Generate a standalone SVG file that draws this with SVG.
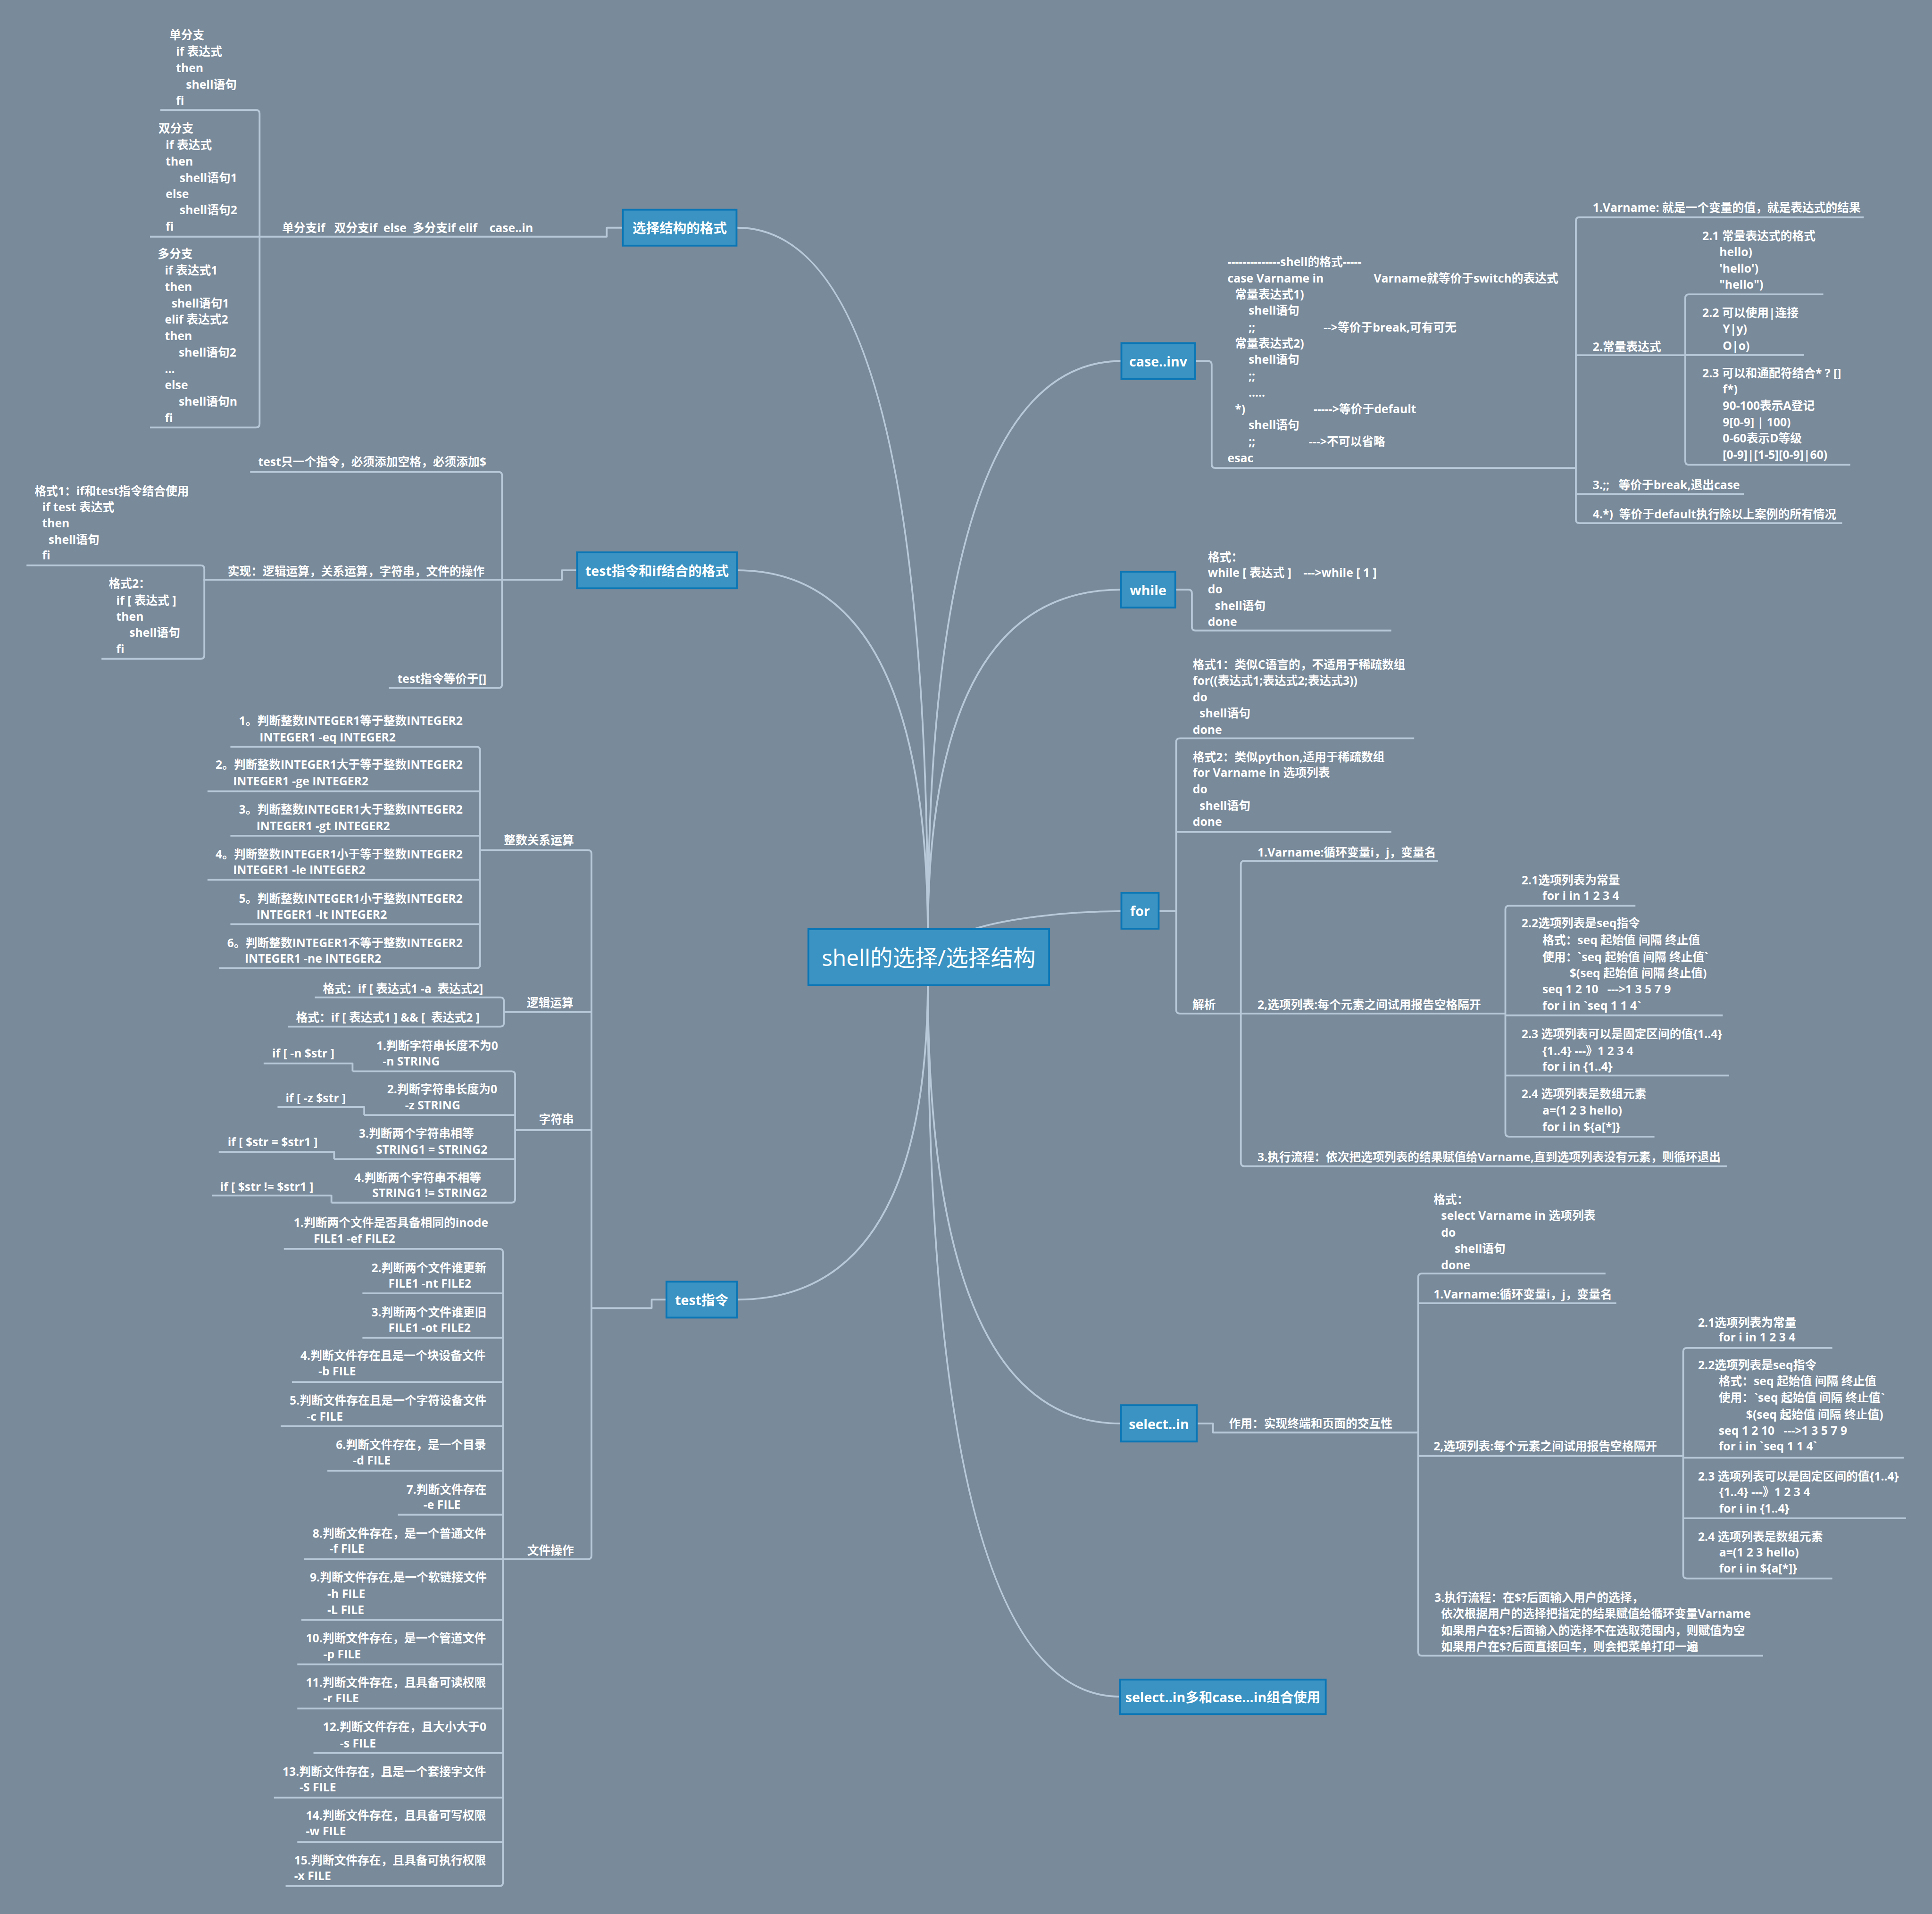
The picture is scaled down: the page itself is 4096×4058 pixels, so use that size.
<svg xmlns="http://www.w3.org/2000/svg" width="4096" height="4058" viewBox="0 0 4096 4058">
<style>
.bg{fill:#798a9a}
.n rect{fill:#3a93c2;stroke:#0b76b5;stroke-width:4}
.n text{font:700 30px 'Open Sans','Noto Sans CJK SC',sans-serif;fill:#fff;text-anchor:middle;dominant-baseline:central}
#center text{font:400 50px 'Open Sans','Noto Sans CJK SC',sans-serif}
.t text{font:700 26px 'Open Sans','Noto Sans CJK SC',sans-serif;fill:#fff;white-space:pre}
#connectors path{fill:none;stroke:#b7c8d9;stroke-width:4;stroke-linejoin:round}
</style>
<rect class="bg" x="0" y="0" width="4096" height="4058"/>
<g transform="scale(0.95212)">
<g id="connectors">
<path d="M2066,2090 Q2066,507 1641,507"/>
<path d="M2066,2090 Q2066,1270 1641,1270"/>
<path d="M2066,2180 Q2066,2894 1641,2894"/>
<path d="M2066,2090 Q2066,804 2497,804"/>
<path d="M2066,2090 Q2066,1313 2496,1313"/>
<path d="M2150,2075 C2230,2045 2380,2029 2497,2029"/>
<path d="M2066,2180 Q2066,3170 2496,3170"/>
<path d="M2066,2180 Q2066,3778 2494,3778"/>
<path d="M1387,507 H1351 V527 H578"/>
<path d="M357,245 H570 Q578,245 578,253 V944 Q578,952 570,952 H334"/>
<path d="M334,527 H578"/>
<path d="M1285,1270 H1251 V1291 H453"/>
<path d="M557,1051 H1110 Q1118,1051 1118,1059 V1524 Q1118,1532 1110,1532 H866"/>
<path d="M59,1259 H447 Q455,1259 455,1267 V1459 Q455,1467 447,1467 H226"/>
<path d="M1484,2894 H1451 V2913 H1317"/>
<path d="M1069,1893 H1309 Q1317,1893 1317,1901 V3464 Q1317,3472 1309,3472 H677"/>
<path d="M1122,2253.5 H1317 M1147,2516.5 H1317"/>
<path d="M513,1663 H1061 Q1069,1663 1069,1671 V2148 Q1069,2156 1061,2156 H488"/>
<path d="M462,1762 H1069 M513,1861 H1069 M462,1959 H1069 M513,2058 H1069"/>
<path d="M701,2221 H1114 Q1122,2221 1122,2229 V2278 Q1122,2286 1114,2286 H641"/>
<path d="M785,2385.5 H1139 Q1147,2385.5 1147,2393.5 V2670 Q1147,2678 1139,2678 H738"/>
<path d="M811,2483 H1147 M744,2581 H1147"/>
<path d="M587,2368 H785 V2385.5 M618,2465 H811 V2483 M487,2565 H744 V2581 M472,2662 H738 V2678"/>
<path d="M632,2781 H1112 Q1120,2781 1120,2789 V4192 Q1120,4200 1112,4200 H636"/>
<path d="M807,2880 H1120 M807,2979 H1120 M650,3077.5 H1120 M625,3176 H1120 M729,3275 H1120 M886,3373 H1120 M671,3607 H1120 M662,3706 H1120 M662,3804.5 H1120 M698,3903.5 H1120 M610,4003 H1120 M662,4101.6 H1120"/>
<path d="M2661,804 H2690 Q2698,804 2698,812 V1034 Q2698,1042 2706,1042 H3509"/>
<path d="M4150,483.7 H3517 Q3509,483.7 3509,491.7 V1157 Q3509,1165 3517,1165 H4102"/>
<path d="M3509,791 H3752.6 M3509,1100 H3883"/>
<path d="M4060,655.5 H3760.6 Q3752.6,655.5 3752.6,663.5 V1027 Q3752.6,1035 3760.6,1035 H4120"/>
<path d="M3752.6,790.6 H4017"/>
<path d="M2617,1313 H2646 Q2654,1313 2654,1321 V1396 Q2654,1404 2662,1404 H3098"/>
<path d="M2580,2029 H2619"/>
<path d="M3149,1644 H2627 Q2619,1644 2619,1652 V2249 Q2619,2257 2627,2257 H2763"/>
<path d="M2619,1852.5 H3098"/>
<path d="M3202,1917 H2771 Q2763,1917 2763,1925 V2589 Q2763,2597 2771,2597 H3845"/>
<path d="M2763,2257 H3352"/>
<path d="M3641.6,2017 H3360 Q3352,2017 3352,2025 V2523 Q3352,2531 3360,2531 H3684"/>
<path d="M3352,2261 H3836 M3352,2395 H3850"/>
<path d="M2665,3170 H2701 V3190 H3158"/>
<path d="M3575,2836 H3166 Q3158,2836 3158,2844 V3679 Q3158,3687 3166,3687 H3926"/>
<path d="M3158,2902 H3599 M3158,3242 H3748"/>
<path d="M4080,3001.5 H3756 Q3748,3001.5 3748,3009.5 V3507 Q3748,3515 3756,3515 H4080"/>
<path d="M3748,3246 H4239 M3748,3381 H4244"/>
</g>

<g id="center" class="n"><rect x="1800" y="2069" width="536" height="125"/><text x="2068" y="2132">shell的选择/选择结构</text></g>
<g id="n-format" class="n"><rect x="1387" y="467" width="253" height="80"/><text x="1513.5" y="507">选择结构的格式</text></g>
<g id="n-testif" class="n"><rect x="1285" y="1230" width="356" height="80"/><text x="1463" y="1270">test指令和if结合的格式</text></g>
<g id="n-test" class="n"><rect x="1484" y="2854" width="157" height="80"/><text x="1562.5" y="2894">test指令</text></g>
<g id="n-case" class="n"><rect x="2497" y="764" width="164" height="80"/><text x="2579" y="804">case..inv</text></g>
<g id="n-while" class="n"><rect x="2496" y="1273" width="121" height="80"/><text x="2556.5" y="1313">while</text></g>
<g id="n-for" class="n"><rect x="2497" y="1988" width="83" height="80"/><text x="2538.5" y="2028">for</text></g>
<g id="n-select" class="n"><rect x="2496" y="3129" width="169" height="81"/><text x="2580.5" y="3170">select..in</text></g>
<g id="n-selectcase" class="n"><rect x="2494" y="3740" width="458" height="77"/><text x="2723" y="3778.5">select..in多和case...in组合使用</text></g>

<g id="t-format-main" class="t"><text x="628" y="517">单分支if   双分支if  else  多分支if elif    case..in</text></g>
<g id="t-single" class="t"><text x="377" y="87">单分支</text><text x="392" y="124">if 表达式</text><text x="392" y="160.5">then</text><text x="414" y="197">shell语句</text><text x="392" y="233">fi</text></g>
<g id="t-double" class="t"><text x="353" y="295.5">双分支</text><text x="369" y="332">if 表达式</text><text x="369" y="369">then</text><text x="400" y="405">shell语句1</text><text x="369" y="441">else</text><text x="400" y="477">shell语句2</text><text x="369" y="514">fi</text></g>
<g id="t-multi" class="t"><text x="351" y="575">多分支</text><text x="367" y="611.5">if 表达式1</text><text x="367" y="648">then</text><text x="382" y="684.5">shell语句1</text><text x="367" y="721">elif 表达式2</text><text x="367" y="757.5">then</text><text x="398" y="794">shell语句2</text><text x="367" y="830.5">...</text><text x="367" y="867">else</text><text x="398" y="903.5">shell语句n</text><text x="367" y="940">fi</text></g>

<g id="t-testonly" class="t"><text x="575" y="1038">test只一个指令，必须添加空格，必须添加$</text></g>
<g id="t-impl" class="t"><text x="507" y="1281">实现：逻辑运算，关系运算，字符串，文件的操作</text></g>
<g id="t-eq" class="t"><text x="885" y="1521">test指令等价于[]</text></g>
<g id="t-fmt1" class="t"><text x="77" y="1102.5">格式1：if和test指令结合使用</text><text x="94" y="1138">if test 表达式</text><text x="94" y="1174">then</text><text x="108" y="1211">shell语句</text><text x="94" y="1246">fi</text></g>
<g id="t-fmt2" class="t"><text x="242" y="1309">格式2：</text><text x="259" y="1346">if [ 表达式 ]</text><text x="259" y="1382">then</text><text x="288" y="1418">shell语句</text><text x="259" y="1455">fi</text></g>

<g id="t-int" class="t"><text x="1122" y="1880">整数关系运算</text></g>
<g id="t-int1" class="t"><text x="532" y="1614">1。判断整数INTEGER1等于整数INTEGER2</text><text x="578" y="1651">INTEGER1 -eq INTEGER2</text></g>
<g id="t-int2" class="t"><text x="480" y="1712">2。判断整数INTEGER1大于等于整数INTEGER2</text><text x="519" y="1749">INTEGER1 -ge INTEGER2</text></g>
<g id="t-int3" class="t"><text x="532" y="1812">3。判断整数INTEGER1大于整数INTEGER2</text><text x="571" y="1848">INTEGER1 -gt INTEGER2</text></g>
<g id="t-int4" class="t"><text x="480" y="1911">4。判断整数INTEGER1小于等于整数INTEGER2</text><text x="519" y="1946">INTEGER1 -le INTEGER2</text></g>
<g id="t-int5" class="t"><text x="532" y="2010">5。判断整数INTEGER1小于整数INTEGER2</text><text x="571" y="2046">INTEGER1 -lt INTEGER2</text></g>
<g id="t-int6" class="t"><text x="506" y="2109">6。判断整数INTEGER1不等于整数INTEGER2</text><text x="545" y="2144">INTEGER1 -ne INTEGER2</text></g>

<g id="t-logic" class="t"><text x="1173" y="2242">逻辑运算</text></g>
<g id="t-logic1" class="t"><text x="719" y="2210.5">格式：if [ 表达式1 -a  表达式2]</text></g>
<g id="t-logic2" class="t"><text x="659" y="2275">格式：if [ 表达式1 ] &amp;&amp; [  表达式2 ]</text></g>

<g id="t-str" class="t"><text x="1200" y="2502">字符串</text></g>
<g id="t-str1" class="t"><text x="838" y="2338">1.判断字符串长度不为0</text><text x="852" y="2373">-n STRING</text></g>
<g id="t-str1a" class="t"><text x="606" y="2355">if [ -n $str ]</text></g>
<g id="t-str2" class="t"><text x="862" y="2435">2.判断字符串长度为0</text><text x="902" y="2470">-z STRING</text></g>
<g id="t-str2a" class="t"><text x="636" y="2454">if [ -z $str ]</text></g>
<g id="t-str3" class="t"><text x="799" y="2533">3.判断两个字符串相等</text><text x="837" y="2569">STRING1 = STRING2</text></g>
<g id="t-str3a" class="t"><text x="507" y="2552">if [ $str = $str1 ]</text></g>
<g id="t-str4" class="t"><text x="789" y="2632">4.判断两个字符串不相等</text><text x="829" y="2666">STRING1 != STRING2</text></g>
<g id="t-str4a" class="t"><text x="490" y="2651.5">if [ $str != $str1 ]</text></g>

<g id="t-file" class="t"><text x="1174" y="3462">文件操作</text></g>
<g id="t-f1" class="t"><text x="654" y="2731.5">1.判断两个文件是否具备相同的inode</text><text x="698.5" y="2768">FILE1 -ef FILE2</text></g>
<g id="t-f2" class="t"><text x="827" y="2833">2.判断两个文件谁更新</text><text x="865" y="2867">FILE1 -nt FILE2</text></g>
<g id="t-f3" class="t"><text x="827" y="2931">3.判断两个文件谁更旧</text><text x="865" y="2966">FILE1 -ot FILE2</text></g>
<g id="t-f4" class="t"><text x="669" y="3028.5">4.判断文件存在且是一个块设备文件</text><text x="709" y="3063">-b FILE</text></g>
<g id="t-f5" class="t"><text x="645" y="3128">5.判断文件存在且是一个字符设备文件</text><text x="683" y="3163.5">-c FILE</text></g>
<g id="t-f6" class="t"><text x="748" y="3226">6.判断文件存在，是一个目录</text><text x="786" y="3261">-d FILE</text></g>
<g id="t-f7" class="t"><text x="905" y="3326">7.判断文件存在</text><text x="943" y="3360">-e FILE</text></g>
<g id="t-f8" class="t"><text x="696" y="3424">8.判断文件存在，是一个普通文件</text><text x="734" y="3458">-f FILE</text></g>
<g id="t-f9" class="t"><text x="690" y="3522">9.判断文件存在,是一个软链接文件</text><text x="729" y="3558.5">-h FILE</text><text x="729" y="3594.5">-L FILE</text></g>
<g id="t-f10" class="t"><text x="681" y="3657">10.判断文件存在，是一个管道文件</text><text x="720" y="3693">-p FILE</text></g>
<g id="t-f11" class="t"><text x="681" y="3756">11.判断文件存在，且具备可读权限</text><text x="720" y="3790.5">-r FILE</text></g>
<g id="t-f12" class="t"><text x="719" y="3855">12.判断文件存在，且大小大于0</text><text x="757" y="3891">-s FILE</text></g>
<g id="t-f13" class="t"><text x="629" y="3954.5">13.判断文件存在，且是一个套接字文件</text><text x="667" y="3989">-S FILE</text></g>
<g id="t-f14" class="t"><text x="681" y="4052">14.判断文件存在，且具备可写权限</text><text x="681" y="4087">-w FILE</text></g>
<g id="t-f15" class="t"><text x="655" y="4152">15.判断文件存在，且具备可执行权限</text><text x="655" y="4186.5">-x FILE</text></g>

<g id="t-case" class="t"><text x="2733.5" y="592">--------------shell的格式-----</text><text x="2733.5" y="629">case Varname in</text><text x="3059" y="629">Varname就等价于switch的表达式</text><text x="2750" y="665">常量表达式1)</text><text x="2780" y="701">shell语句</text><text x="2780" y="738">;;</text><text x="2947" y="738">--&gt;等价于break,可有可无</text><text x="2750" y="774">常量表达式2)</text><text x="2780" y="810">shell语句</text><text x="2780" y="847">;;</text><text x="2780" y="883">.....</text><text x="2750" y="920">*)</text><text x="2925" y="920">-----&gt;等价于default</text><text x="2780" y="956">shell语句</text><text x="2780" y="993">;;</text><text x="2914.5" y="993">---&gt;不可以省略</text><text x="2733.5" y="1029">esac</text></g>
<g id="t-c1" class="t"><text x="3546.6" y="472">1.Varname: 就是一个变量的值，就是表达式的结果</text></g>
<g id="t-c2" class="t"><text x="3546.6" y="781">2.常量表达式</text></g>
<g id="t-c21" class="t"><text x="3790.6" y="535">2.1 常量表达式的格式</text><text x="3828.5" y="570">hello)</text><text x="3828.5" y="607">'hello')</text><text x="3828.5" y="642.5">"hello")</text></g>
<g id="t-c22" class="t"><text x="3790.6" y="706">2.2 可以使用|连接</text><text x="3836" y="742">Y|y)</text><text x="3836" y="779">O|o)</text></g>
<g id="t-c23" class="t"><text x="3790.6" y="840">2.3 可以和通配符结合* ? []</text><text x="3836" y="876">f*)</text><text x="3836" y="912.5">90-100表示A登记</text><text x="3836" y="949">9[0-9] | 100)</text><text x="3836" y="985">0-60表示D等级</text><text x="3836" y="1022">[0-9]|[1-5][0-9]|60)</text></g>
<g id="t-c3" class="t"><text x="3546.6" y="1089">3.;;   等价于break,退出case</text></g>
<g id="t-c4" class="t"><text x="3546.6" y="1154">4.*)  等价于default执行除以上案例的所有情况</text></g>

<g id="t-while" class="t"><text x="2689.5" y="1249.6">格式：</text><text x="2689.5" y="1285">while [ 表达式 ]    ---&gt;while [ 1 ]</text><text x="2689.5" y="1321">do</text><text x="2705" y="1358">shell语句</text><text x="2689.5" y="1393.6">done</text></g>

<g id="t-for1" class="t"><text x="2656" y="1489">格式1：类似C语言的，不适用于稀疏数组</text><text x="2656" y="1525">for((表达式1;表达式2;表达式3))</text><text x="2656" y="1561.5">do</text><text x="2671" y="1598">shell语句</text><text x="2656" y="1634">done</text></g>
<g id="t-for2" class="t"><text x="2656" y="1695">格式2：类似python,适用于稀疏数组</text><text x="2656" y="1730">for Varname in 选项列表</text><text x="2656" y="1766.6">do</text><text x="2671" y="1803">shell语句</text><text x="2656" y="1839">done</text></g>
<g id="t-parse" class="t"><text x="2655" y="2247">解析</text></g>
<g id="t-p1" class="t"><text x="2800" y="1907">1.Varname:循环变量i，j，变量名</text></g>
<g id="t-p2" class="t"><text x="2800" y="2247">2,选项列表:每个元素之间试用报告空格隔开</text></g>
<g id="t-p21" class="t"><text x="3388" y="1969">2.1选项列表为常量</text><text x="3434.5" y="2004">for i in 1 2 3 4</text></g>
<g id="t-p22" class="t"><text x="3388" y="2065">2.2选项列表是seq指令</text><text x="3434.5" y="2103">格式：seq 起始值 间隔 终止值</text><text x="3434.5" y="2140">使用：`seq 起始值 间隔 终止值`</text><text x="3495" y="2176">$(seq 起始值 间隔 终止值)</text><text x="3434.5" y="2212">seq 1 2 10   ---&gt;1 3 5 7 9</text><text x="3434.5" y="2248.6">for i in `seq 1 1 4`</text></g>
<g id="t-p23" class="t"><text x="3388" y="2312">2.3 选项列表可以是固定区间的值{1..4}</text><text x="3434.5" y="2349">{1..4} ---》1 2 3 4</text><text x="3434.5" y="2384">for i in {1..4}</text></g>
<g id="t-p24" class="t"><text x="3388" y="2445">2.4 选项列表是数组元素</text><text x="3434.5" y="2482">a=(1 2 3 hello)</text><text x="3434.5" y="2518.6">for i in ${a[*]}</text></g>
<g id="t-p3" class="t"><text x="2800" y="2585.6">3.执行流程：依次把选项列表的结果赋值给Varname,直到选项列表没有元素，则循环退出</text></g>

<g id="t-sel-use" class="t"><text x="2736.6" y="3179">作用：实现终端和页面的交互性</text></g>
<g id="t-sel-fmt" class="t"><text x="3192" y="2680">格式：</text><text x="3209" y="2716">select Varname in 选项列表</text><text x="3209" y="2754">do</text><text x="3239" y="2790">shell语句</text><text x="3209" y="2826">done</text></g>
<g id="t-s1" class="t"><text x="3192" y="2891">1.Varname:循环变量i，j，变量名</text></g>
<g id="t-s2" class="t"><text x="3192" y="3230">2,选项列表:每个元素之间试用报告空格隔开</text></g>
<g id="t-s21" class="t"><text x="3781" y="2954">2.1选项列表为常量</text><text x="3827" y="2987">for i in 1 2 3 4</text></g>
<g id="t-s22" class="t"><text x="3781" y="3049">2.2选项列表是seq指令</text><text x="3827" y="3085">格式：seq 起始值 间隔 终止值</text><text x="3827" y="3121">使用：`seq 起始值 间隔 终止值`</text><text x="3888" y="3159">$(seq 起始值 间隔 终止值)</text><text x="3827" y="3195">seq 1 2 10   ---&gt;1 3 5 7 9</text><text x="3827" y="3230">for i in `seq 1 1 4`</text></g>
<g id="t-s23" class="t"><text x="3781" y="3297">2.3 选项列表可以是固定区间的值{1..4}</text><text x="3828" y="3332">{1..4} ---》1 2 3 4</text><text x="3828" y="3368">for i in {1..4}</text></g>
<g id="t-s24" class="t"><text x="3781" y="3431">2.4 选项列表是数组元素</text><text x="3828" y="3466">a=(1 2 3 hello)</text><text x="3828" y="3501.6">for i in ${a[*]}</text></g>
<g id="t-s3" class="t"><text x="3194" y="3566.6">3.执行流程：在$?后面输入用户的选择，</text><text x="3208.5" y="3603">依次根据用户的选择把指定的结果赋值给循环变量Varname</text><text x="3208.5" y="3640">如果用户在$?后面输入的选择不在选取范围内，则赋值为空</text><text x="3208.5" y="3676">如果用户在$?后面直接回车，则会把菜单打印一遍</text></g>
</g>
</svg>
